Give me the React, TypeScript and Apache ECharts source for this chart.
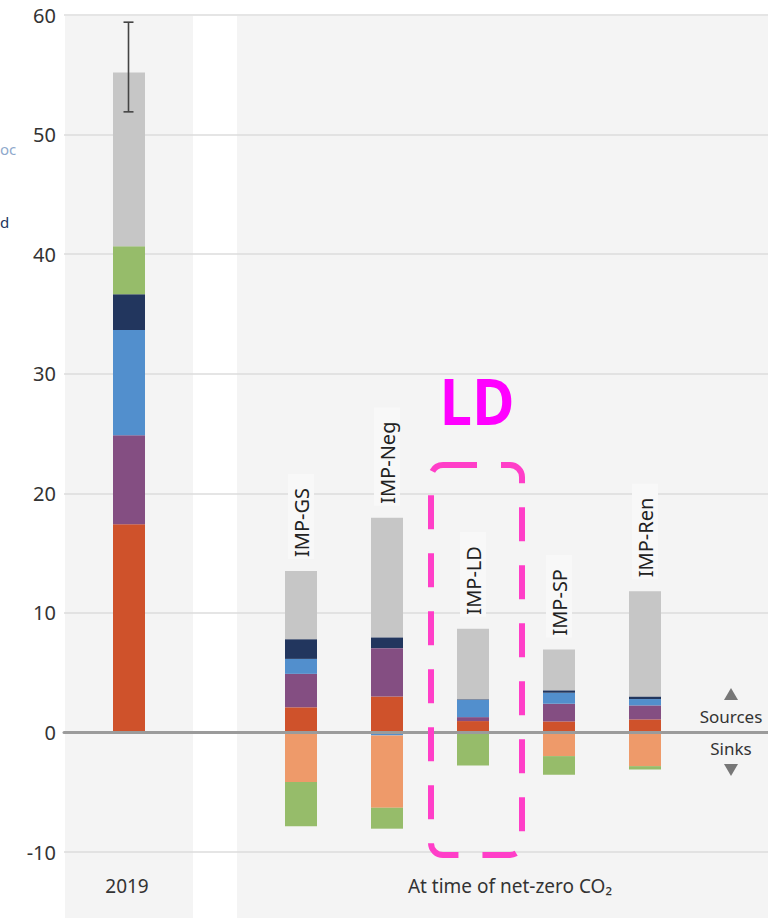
import React, { useEffect, useRef } from "react";
import * as echarts from "echarts";

// ---- data ----
const categories = ["2019", "IMP-GS", "IMP-Neg", "IMP-LD", "IMP-SP", "IMP-Ren"];
const slots = [0, 2, 3, 4, 5, 6]; // category slot of each bar (slot 1 is the gap)
const slotCount = 7;
const energyCO2 = [17.4, 2.1, 3.0, 0.95, 0.92, 1.09];
const industryCO2 = [7.45, 2.8, 4.05, 0.33, 1.48, 1.17];
const blueComp = [8.8, 1.25, -0.25, 1.45, 0.92, 0.53];
const navyComp = [3.0, 1.65, 0.9, 0.05, 0.2, 0.22];
const sinkComp = [0, -4.15, -6.05, 0, -1.98, -2.82];
const landComp = [4.0, -3.7, -1.75, -2.76, -1.56, -0.28];
const otherGHG = [14.55, 5.7, 10.0, 5.9, 3.41, 8.8];
const errorBar2019 = [51.9, 59.4];
const yTicks = { min: -10, max: 60, interval: 10 };
const panelLabels = ["2019", "At time of net-zero CO₂"];
const highlightLabel = "LD";
const sourceSinkLabels = ["Sources", "Sinks"];

const FONT = '"Noto Sans", "Open Sans", sans-serif';

export default function App() {
  const ref = useRef<HTMLDivElement>(null);
  useEffect(() => {
    if (!ref.current) return;
    const chart = echarts.init(ref.current, null, { renderer: "svg" });
    const slotNames: string[] = Array.from({ length: slotCount }, () => "");
    slots.forEach((s, i) => (slotNames[s] = categories[i]));
    const spread = (arr: number[]) => {
      const out: (number | null)[] = Array.from({ length: slotCount }, () => null);
      slots.forEach((s, i) => (out[s] = arr[i] === 0 ? null : arr[i]));
      return out;
    };
    const barBase = {
      type: "bar",
      stack: "total",
      barWidth: 32,
      clip: false,
      xAxisIndex: 1,
      yAxisIndex: 1,
    };
    const otherData: any[] = Array.from({ length: slotCount }, () => null);
    slots.forEach((s, i) => {
      otherData[s] = { value: otherGHG[i], label: { show: i > 0 } };
    });

    const option: any = {
      animation: false,
      backgroundColor: "#ffffff",
      grid: [
        { left: 64, right: 0, top: 15, bottom: 66 },
        { left: 129, width: 516, top: 15, bottom: 66 },
      ],
      xAxis: [
        {
          type: "value",
          gridIndex: 0,
          min: 0,
          max: 1,
          z: 5,
          axisLine: { show: true, onZero: true, lineStyle: { color: "#9B9B9B", width: 3 } },
          axisTick: { show: false },
          axisLabel: { show: false },
          splitLine: { show: false },
        },
        {
          type: "category",
          gridIndex: 1,
          data: slotNames,
          boundaryGap: false,
          show: false,
        },
      ],
      yAxis: [
        {
          type: "value",
          gridIndex: 0,
          min: yTicks.min,
          max: yTicks.max,
          interval: yTicks.interval,
          axisLine: { show: false },
          axisTick: { show: false },
          axisLabel: { fontSize: 20, color: "#333", fontFamily: FONT, margin: 8 },
          splitLine: { lineStyle: { color: "#DCDCDC", width: 1.5 } },
        },
        {
          type: "value",
          gridIndex: 1,
          min: yTicks.min,
          max: yTicks.max,
          interval: yTicks.interval,
          show: false,
        },
      ],
      graphic: {
        elements: [
          { type: "rect", z: -1, shape: { x: 65, y: 16, width: 128, height: 902 }, style: { fill: "#F4F4F4" } },
          { type: "rect", z: -1, shape: { x: 237, y: 16, width: 531, height: 902 }, style: { fill: "#F4F4F4" } },
          { type: "text", x: 127, y: 886, style: { text: panelLabels[0], fill: "#333", fontSize: 19, fontFamily: FONT, align: "center", verticalAlign: "middle" } },
          { type: "text", x: 510, y: 886, style: { text: panelLabels[1], fill: "#333", fontSize: 19, fontFamily: FONT, align: "center", verticalAlign: "middle" } },
          { type: "polygon", shape: { points: [[724, 700], [738, 700], [731, 688]] }, style: { fill: "#777" } },
          { type: "text", x: 731, y: 716, style: { text: sourceSinkLabels[0], fill: "#333", fontSize: 17, fontFamily: FONT, align: "center", verticalAlign: "middle" } },
          { type: "text", x: 731, y: 748, style: { text: sourceSinkLabels[1], fill: "#333", fontSize: 17, fontFamily: FONT, align: "center", verticalAlign: "middle" } },
          { type: "polygon", shape: { points: [[724, 764], [738, 764], [731, 776]] }, style: { fill: "#777" } },
          { type: "text", x: 477, y: 400, scaleX: 0.9, style: { text: highlightLabel, fill: "#FF00FF", fontSize: 64, fontWeight: "bold", fontFamily: '"Open Sans", "Noto Sans", sans-serif', align: "center", verticalAlign: "middle" } },
          {
            type: "rect", z: 20,
            shape: { x: 431, y: 465, width: 91, height: 390, r: 12 },
            style: { fill: "none", stroke: "#FF3EC8", lineWidth: 6, lineDash: [34, 24] },
          },
          { type: "text", x: 0, y: 149, style: { text: "oc", fill: "#8FA9CC", fontSize: 15, fontFamily: FONT, align: "left", verticalAlign: "middle" } },
          { type: "text", x: 0, y: 222, style: { text: "d", fill: "#22365E", fontSize: 15, fontFamily: FONT, align: "left", verticalAlign: "middle" } },
        ],
      },
      series: [
        { ...barBase, name: "energy", data: spread(energyCO2), itemStyle: { color: "#CF522B" } },
        { ...barBase, name: "industry", data: spread(industryCO2), itemStyle: { color: "#844E82" } },
        { ...barBase, name: "blue", data: spread(blueComp), itemStyle: { color: "#528FCD" } },
        { ...barBase, name: "navy", data: spread(navyComp), itemStyle: { color: "#22365E" } },
        { ...barBase, name: "sink", data: spread(sinkComp), itemStyle: { color: "#EE9A6A" } },
        { ...barBase, name: "land", data: spread(landComp), itemStyle: { color: "#96BC6A" } },
        {
          ...barBase,
          name: "other",
          itemStyle: { color: "#C6C6C6" },
          data: otherData,
          label: {
            show: true,
            position: "top",
            distance: 12,
            rotate: 90,
            align: "left",
            verticalAlign: "middle",
            formatter: "{b}",
            fontSize: 20,
            color: "#222",
            fontFamily: FONT,
            backgroundColor: "#F8F8F8",
            padding: [3, 14, 3, 2],
          },
        },
        {
          type: "custom",
          name: "error",
          xAxisIndex: 1,
          yAxisIndex: 1,
          z: 10,
          clip: false,
          encode: { x: 0, y: [1, 2] },
          data: [[slots[0], errorBar2019[0], errorBar2019[1]]],
          renderItem: (params: any, api: any) => {
            const x = api.value(0);
            const lo = api.coord([x, api.value(1)]);
            const hi = api.coord([x, api.value(2)]);
            const cx = lo[0] - 0.5;
            const w = 5;
            const st = { stroke: "#444", lineWidth: 1.6 };
            return {
              type: "group",
              children: [
                { type: "line", shape: { x1: cx, y1: lo[1], x2: cx, y2: hi[1] }, style: st },
                { type: "line", shape: { x1: cx - w, y1: lo[1], x2: cx + w, y2: lo[1] }, style: st },
                { type: "line", shape: { x1: cx - w, y1: hi[1], x2: cx + w, y2: hi[1] }, style: st },
              ],
            };
          },
        },
      ],
    };
    chart.setOption(option);
    return () => chart.dispose();
  }, []);
  return <div ref={ref} style={{ position: "absolute", left: 0, top: 0, width: 768, height: 918 }} />;
}
